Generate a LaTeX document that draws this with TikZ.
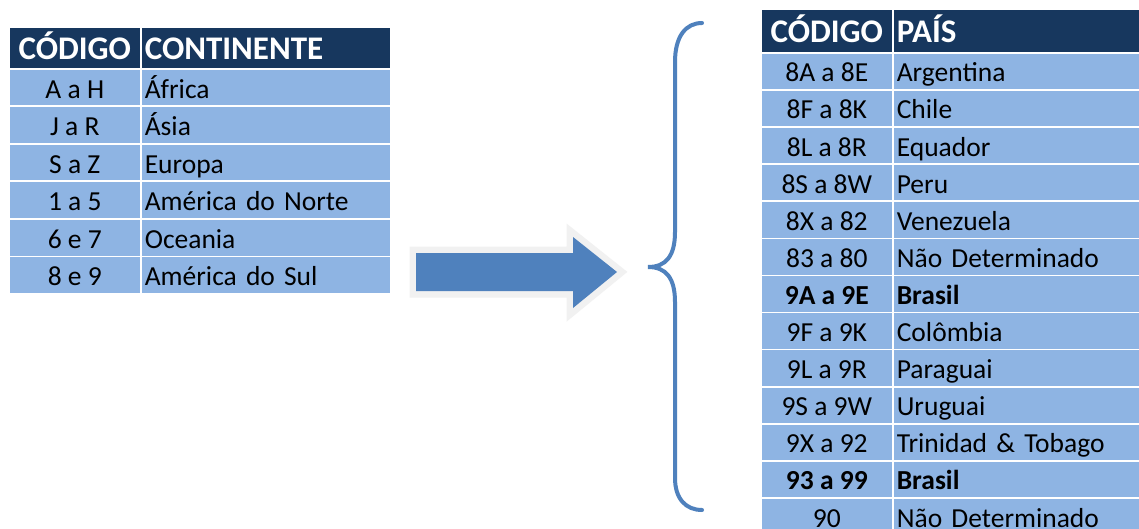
\documentclass[tikz,border=0pt]{standalone}
\usepackage{fontspec}
\setmainfont{Carlito}
\definecolor{headblue}{HTML}{17375E}
\definecolor{rowblue}{HTML}{8EB4E3}
\definecolor{accent}{HTML}{4F81BD}
\definecolor{glow}{HTML}{F1F1F1}
\newcommand{\bodyfont}{\fontsize{27.5}{30}\selectfont}
\newcommand{\headfont}{\fontsize{33}{36}\selectfont\bfseries}
\tikzset{
  cell/.style={draw=white, line width=1.6pt, anchor=north west, inner sep=0pt,
    font=\bodyfont, text=black, text height=26pt, text depth=5pt},
  codecell/.style={cell, fill=rowblue, align=center},
  namecell/.style={cell, fill=rowblue, align=left, inner xsep=4pt},
  headcell/.style={cell, fill=headblue, text=white, font=\headfont, text height=29pt, text depth=6pt},
  strong/.style={font=\bodyfont\bfseries},
}
\begin{document}
\begin{tikzpicture}[x=1pt, y=-1pt]
\useasboundingbox (0,0) rectangle (1139,529);
\fill[white] (0,0) rectangle (1139,529);

% ---- continent table ----
\node[headcell, minimum width=132pt, minimum height=42pt, align=center] (lh1) at (8,26) {CÓDIGO};
\node[headcell, minimum width=250pt, minimum height=42pt, text width=242pt, inner xsep=4pt, align=left] (lh2) at (140,26) {CONTINENTE};
\foreach \code/\name [count=\i] in {A a H/África, J a R/Ásia, S a Z/Europa, 1 a 5/América do Norte, 6 e 7/Oceania, 8 e 9/América do Sul}{
  \node[codecell, minimum width=132pt, minimum height=37.5pt] (lc\i) at (8,{68+37.5*(\i-1)}) {\code};
  \node[namecell, minimum width=250pt, minimum height=37.5pt, text width=242pt] (ln\i) at (140,{68+37.5*(\i-1)}) {\name};
}

% ---- arrow with pale halo ----
\path[fill=accent, draw=glow, line width=13pt, line join=miter]
  (416,253) -- (573,253) -- (573,237) -- (617,272) -- (573,308) -- (573,291) -- (416,291) -- cycle;
\fill[accent] (416,253) -- (573,253) -- (573,237) -- (617,272) -- (573,308) -- (573,291) -- (416,291) -- cycle;

% ---- brace ----
\draw[accent, line width=4pt, line cap=round]
  (702,23) .. controls (686,23) and (675,36) .. (675,62) -- (675,232)
  .. controls (675,256) and (666,267) .. (648,267)
  .. controls (666,267) and (675,278) .. (675,302) -- (675,478)
  .. controls (675,499) and (686,510) .. (702,510);

% ---- country table ----
\node[headcell, minimum width=132pt, minimum height=44pt, align=center] (rh1) at (760,8) {CÓDIGO};
\node[headcell, minimum width=260pt, minimum height=44pt, text width=252pt, inner xsep=4pt, align=left] (rh2) at (892,8) {PAÍS};
\foreach \code/\name/\w [count=\i] in {
  8A a 8E/Argentina/,
  8F a 8K/Chile/,
  8L a 8R/Equador/,
  8S a 8W/Peru/,
  8X a 82/Venezuela/,
  83 a 80/Não Determinado/,
  9A a 9E/Brasil/strong,
  9F a 9K/Colômbia/,
  9L a 9R/Paraguai/,
  9S a 9W/Uruguai/,
  9X a 92/Trinidad \& Tobago/,
  93 a 99/Brasil/strong,
  90/Não Determinado/}{
  \node[codecell, minimum width=132pt, minimum height=37.1pt, \w] (rc\i) at (760,{52+37.1*(\i-1)}) {\code};
  \node[namecell, minimum width=260pt, minimum height=37.1pt, text width=252pt, \w] (rn\i) at (892,{52+37.1*(\i-1)}) {\name};
}
\end{tikzpicture}
\end{document}
